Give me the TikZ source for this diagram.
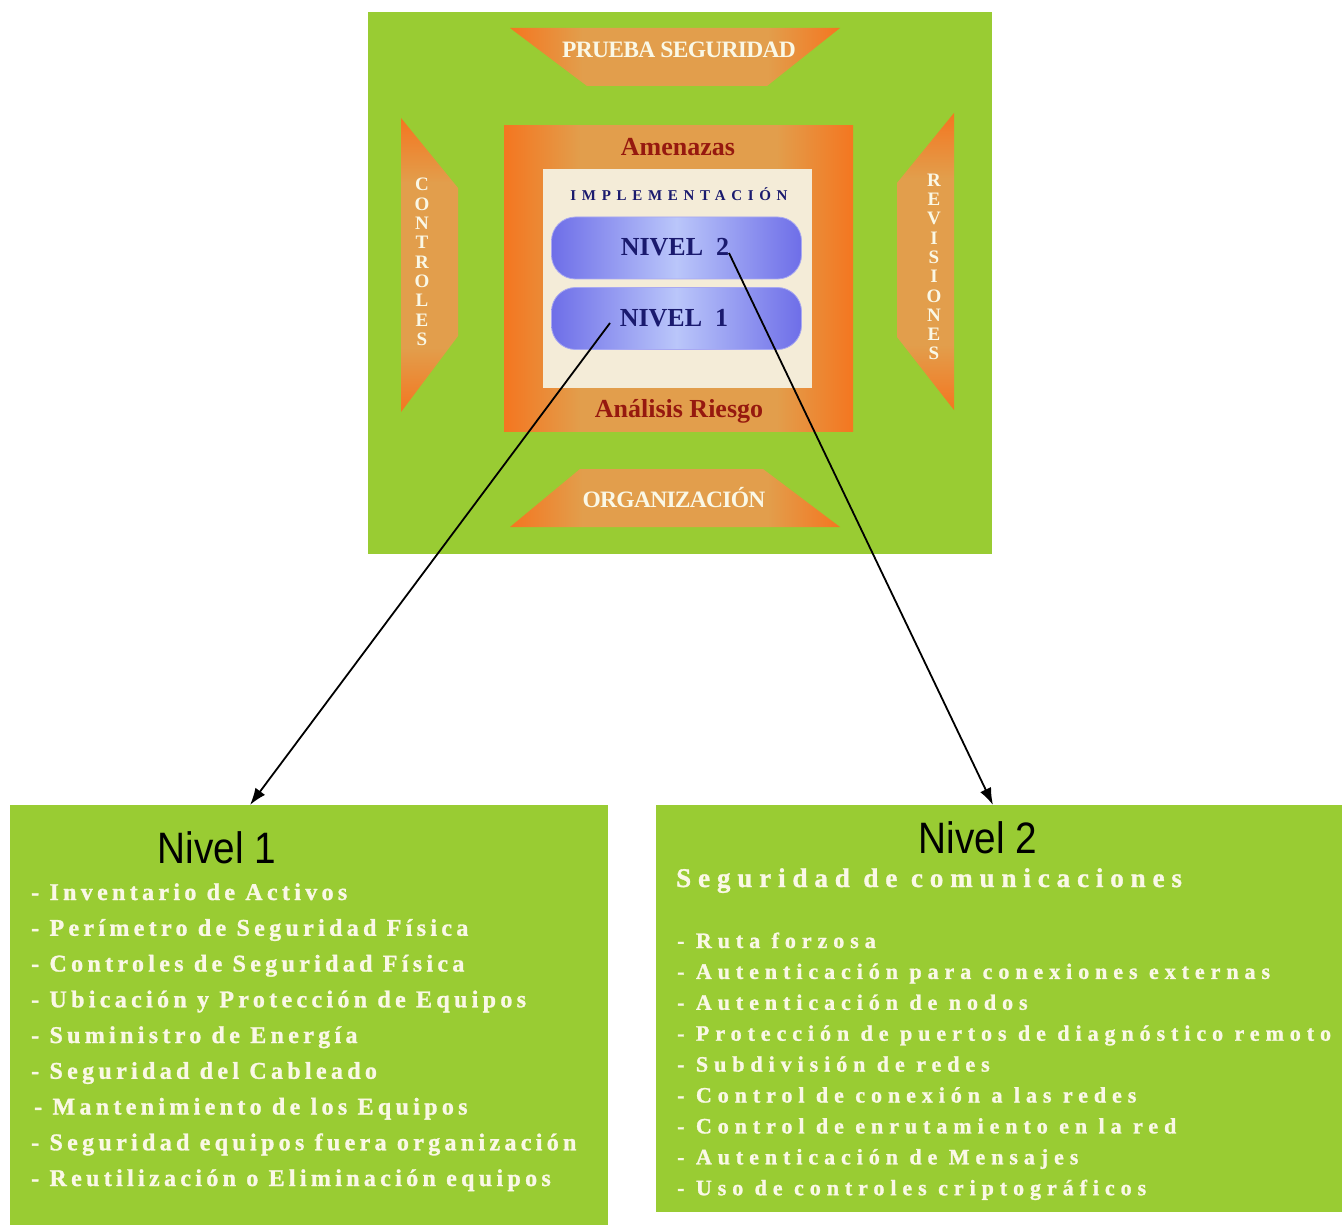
\documentclass[tikz,border=0pt]{standalone}
\usepackage{fontspec}
\setmainfont{Liberation Serif}
\newfontfamily\narrowsans[FakeStretch=0.88]{Liberation Sans}
\newfontfamily\lsA[LetterSpace=18,BoldFeatures={FakeBold=1.2}]{Liberation Serif}
\newfontfamily\lsB[LetterSpace=27,BoldFeatures={FakeBold=1.2}]{Liberation Serif}
\newfontfamily\lsC[LetterSpace=25.5,BoldFeatures={FakeBold=1.2}]{Liberation Serif}
\newfontfamily\lsImp[LetterSpace=38]{Liberation Serif}
\newfontfamily\lsT[LetterSpace=-3]{Liberation Serif}
\usetikzlibrary{arrows.meta}
\definecolor{lgreen}{RGB}{153,204,51}
\definecolor{orgB}{RGB}{244,118,32}
\definecolor{tanO}{RGB}{226,158,76}
\definecolor{cream}{RGB}{244,236,216}
\definecolor{pillE}{RGB}{110,110,232}
\definecolor{pillM}{RGB}{186,198,250}
\definecolor{navy}{RGB}{26,26,110}
\definecolor{dred}{RGB}{150,25,15}
\definecolor{wtext}{RGB}{250,248,230}
\pgfdeclarehorizontalshading{bandH}{100bp}{color(0bp)=(orgB); color(25bp)=(orgB); color(36bp)=(tanO); color(64bp)=(tanO); color(75bp)=(orgB); color(100bp)=(orgB)}
\pgfdeclareverticalshading{bandV}{100bp}{color(0bp)=(orgB); color(25bp)=(orgB); color(36bp)=(tanO); color(64bp)=(tanO); color(75bp)=(orgB); color(100bp)=(orgB)}
\tikzset{
  panel/.style={fill=lgreen, draw=none, inner sep=0pt, anchor=north west},
  bandtext/.style={text=wtext, font=\lsT\bfseries\fontsize{23.5}{25}\selectfont, inner sep=0pt, anchor=base},
  vtext/.style={text=wtext, font=\bfseries\fontsize{19}{19.3}\selectfont, align=center, inner sep=0pt},
  redtext/.style={text=dred, font=\bfseries\fontsize{26}{28}\selectfont, inner sep=0pt, anchor=base},
  pill/.style={rounded corners=24pt, left color=pillE, right color=pillE, middle color=pillM, draw=pillE!60!white, line width=0.8pt, minimum width=250pt, minimum height=62pt, inner sep=0pt},
  pilltext/.style={text=navy, font=\bfseries\fontsize{26}{28}\selectfont, inner sep=0pt, anchor=base},
  titletext/.style={text=black, font=\narrowsans\fontsize{44}{46}\selectfont, inner sep=0pt, anchor=base},
  itemA/.style={text=wtext, font=\lsA\bfseries\fontsize{24}{26}\selectfont, inner sep=0pt, anchor=base west},
  itemB/.style={text=wtext, font=\lsB\bfseries\fontsize{22}{24}\selectfont, inner sep=0pt, anchor=base west},
  link/.style={draw=black, line width=1.8pt, -{Latex[length=17pt,width=12pt]}}
}
\begin{document}
\begin{tikzpicture}[x=1pt,y=-1pt]
\useasboundingbox (0,0) rectangle (1342,1225);
\fill[white] (0,0) rectangle (1342,1225);
% top panel
\node[panel, minimum width=624pt, minimum height=542pt] (toppanel) at (368,12) {};
% trapezoids
\shade[shading=bandH] (510,28) -- (840,28) -- (767,86) -- (587,86) -- cycle;
\shade[shading=bandH] (580,469) -- (763,469) -- (840,527) -- (510,527) -- cycle;
\shade[shading=bandV] (401,118) -- (458,188) -- (458,336) -- (401,412) -- cycle;
\shade[shading=bandV] (954,113) -- (954,410) -- (897,337) -- (897,183) -- cycle;
\node[bandtext] (prueba) at (679,58) {PRUEBA SEGURIDAD};
\node[bandtext] (organiz) at (674,507) {ORGANIZACIÓN};
\node[vtext] (controles) at (422,262) {C\\O\\N\\T\\R\\O\\L\\E\\S};
\node[vtext] (revisiones) at (934,267) {R\\E\\V\\I\\S\\I\\O\\N\\E\\S};
% orange square
\shade[shading=bandH] (504,126) rectangle (853,431);
\fill[cream] (543,169) rectangle (812,388);
\node[redtext] (amenazas) at (678,156) {Amenazas};
\node[redtext] (analisis) at (679,417) {Análisis Riesgo};
\node[text=navy, font=\lsImp\bfseries\fontsize{15}{17}\selectfont, inner sep=0pt, anchor=base] (impl) at (679,201) {IMPLEMENTACIÓN};
% pills
\node[pill] (nivel2) at (676.5,248) {};
\node[pill] (nivel1) at (676.5,318.5) {};
\node[pilltext] (t2) at (675,256) {NIVEL\ \ 2};
\node[pilltext] (t1) at (674,326) {NIVEL\ \ 1};
% bottom panels
\node[panel, minimum width=598pt, minimum height=420pt] (box1) at (10,805) {};
\node[panel, minimum width=686pt, minimum height=407pt] (box2) at (656,805) {};
% connectors
\coordinate (s1) at (610,323);
\coordinate (e1) at (250,805);
\coordinate (s2) at (729,253);
\coordinate (e2) at (993,805);
\draw[link] (s1) -- (e1);
\draw[link] (s2) -- (e2);
% box 1 text
\node[titletext] (title1) at (217,863) {Nivel 1};
\foreach \t [count=\i] in {- Inventario de Activos, - Perímetro de Seguridad Física, - Controles de Seguridad Física, - Ubicación y Protección de Equipos, - Suministro de Energía, - Seguridad del Cableado, \hspace{3pt}- Mantenimiento de los Equipos, - Seguridad equipos fuera organización, - Reutilización o Eliminación equipos}
  \node[itemA] (la\i) at (31,{900+35.75*(\i-1)}) {\t};
% box 2 text
\node[titletext] (title2) at (978,853) {Nivel 2};
\node[text=wtext, font=\lsC\bfseries\fontsize{27}{29}\selectfont, inner sep=0pt, anchor=base west] (sub2) at (676,887) {Seguridad de comunicaciones};
\foreach \t [count=\i] in {- Ruta forzosa, - Autenticación para conexiones externas, - Autenticación de nodos, - Protección de puertos de diagnóstico remoto, - Subdivisión de redes, - Control de conexión a las redes, - Control de enrutamiento en la red, - Autenticación de Mensajes, - Uso de controles criptográficos}
  \node[itemB] (lb\i) at (677,{948+30.9*(\i-1)}) {\t};
\end{tikzpicture}
\end{document}
